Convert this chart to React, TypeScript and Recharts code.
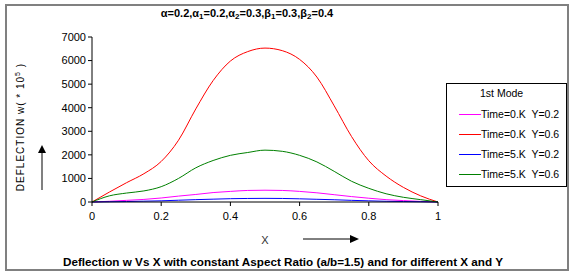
import { Line, LineChart, XAxis, YAxis } from "recharts";

// X positions along the plate
const xs = [0, 0.05, 0.1, 0.15, 0.2, 0.25, 0.3, 0.35, 0.4, 0.45, 0.5, 0.55, 0.6, 0.65, 0.7, 0.75, 0.8, 0.85, 0.9, 0.95, 1];

// deflection w (* 10^5)
const t0y02 = [0, 30, 70, 110, 170, 250, 320, 400, 450, 490, 500, 490, 450, 390, 310, 230, 160, 100, 60, 25, 0];
const t0y06 = [0, 420, 820, 1200, 1720, 2620, 3950, 5150, 5980, 6380, 6530, 6420, 6050, 5300, 4080, 2780, 1750, 1100, 620, 260, 0];
const t5y02 = [0, 10, 20, 35, 50, 75, 100, 120, 140, 150, 155, 150, 135, 115, 95, 70, 50, 30, 20, 10, 0];
const t5y06 = [0, 260, 380, 470, 650, 1000, 1450, 1760, 1980, 2100, 2200, 2150, 1980, 1700, 1300, 880, 580, 350, 200, 100, 0];

const xTicks = [0, 0.2, 0.4, 0.6, 0.8, 1];
const yTicks = [0, 1000, 2000, 3000, 4000, 5000, 6000, 7000];

const series = [
  { key: "t0y02", name: "Time=0.K  Y=0.2", color: "#ff00ff" },
  { key: "t0y06", name: "Time=0.K  Y=0.6", color: "#ff0000" },
  { key: "t5y02", name: "Time=5.K  Y=0.2", color: "#0000ff" },
  { key: "t5y06", name: "Time=5.K  Y=0.6", color: "#008000" },
];

const data = xs.map((x, i) => ({
  x,
  t0y02: t0y02[i],
  t0y06: t0y06[i],
  t5y02: t5y02[i],
  t5y06: t5y06[i],
}));

const font = "'Liberation Sans', Arial, sans-serif";
const tick = { fill: "#000", fontSize: 11, fontFamily: font };

function LegendBox() {
  return (
    <div
      style={{
        position: "absolute",
        left: 446,
        top: 83,
        width: 121,
        height: 104,
        border: "1px solid #000",
        background: "#fff",
        fontFamily: font,
        fontSize: 10.5,
        boxSizing: "border-box",
      }}
    >
      <div style={{ paddingLeft: 33, paddingTop: 3, height: 20, boxSizing: "border-box" }}>1st Mode</div>
      {series.map((s) => (
        <div key={s.key} style={{ display: "flex", alignItems: "center", height: 20 }}>
          <span style={{ width: 22, height: 1, background: s.color, marginLeft: 12 }} />
          <span style={{ whiteSpace: "pre" }}>{s.name}</span>
        </div>
      ))}
    </div>
  );
}

export default function App() {
  return (
    <div style={{ position: "absolute", left: 0, top: 0, width: 575, height: 274, background: "#fff" }}>
      <LineChart
        width={575}
        height={274}
        data={data}
        margin={{ top: 37, right: 137, left: 52, bottom: 42 }}
      >
        <XAxis
          dataKey="x"
          type="number"
          domain={[0, 1]}
          ticks={xTicks}
          tick={tick}
          tickSize={4}
          tickMargin={6}
          stroke="#000"
          height={30}
        />
        <XAxis xAxisId="top" orientation="top" dataKey="x" type="number" domain={[0, 1]} tick={false} tickLine={false} stroke="#000" height={0} />
        <YAxis
          domain={[0, 7000]}
          ticks={yTicks}
          tick={tick}
          tickSize={4}
          tickMargin={2}
          stroke="#000"
          width={40}
          interval={0}
        />
        <YAxis yAxisId="right" orientation="right" domain={[0, 7000]} tick={false} tickLine={false} stroke="#000" width={0} />
        {series.map((s) => (
          <Line
            key={s.key}
            type="monotone"
            dataKey={s.key}
            name={s.name}
            stroke={s.color}
            strokeWidth={1}
            dot={false}
            isAnimationActive={false}
          />
        ))}
      </LineChart>
      <LegendBox />
      <svg
        width={575}
        height={274}
        style={{ position: "absolute", left: 0, top: 0, pointerEvents: "none" }}
        fontFamily={font}
      >
        <rect x={6} y={5} width={562} height={265} fill="none" stroke="#808080" strokeWidth={2} />
        <text x={247} y={17} textAnchor="middle" fontSize={11} fontWeight="bold">
          α=0.2,α<tspan fontSize={8} dy={2}>1</tspan><tspan dy={-2}>=0.2,α</tspan>
          <tspan fontSize={8} dy={2}>2</tspan><tspan dy={-2}>=0.3,β</tspan>
          <tspan fontSize={8} dy={2}>1</tspan><tspan dy={-2}>=0.3,β</tspan>
          <tspan fontSize={8} dy={2}>2</tspan><tspan dy={-2}>=0.4</tspan>
        </text>
        <text
          transform="translate(24,127) rotate(-90)"
          textAnchor="middle"
          fontSize={10}
          letterSpacing={1}
        >
          DEFLECTION w( * 10<tspan fontSize={7} dy={-4}>5</tspan><tspan dy={4}> )</tspan>
        </text>
        <line x1={42} y1={190} x2={42} y2={152} stroke="#808080" strokeWidth={2} />
        <polygon points="42,145 38,153 46,153" fill="#000" />
        <text x={265} y={244} textAnchor="middle" fontSize={11} fill="#333">X</text>
        <line x1={303} y1={239} x2={352} y2={239} stroke="#000" strokeWidth={1} />
        <polygon points="359,239 350,235 350,243" fill="#000" />
        <text x={283} y={266} textAnchor="middle" fontSize={11.7} fontWeight="bold">
          Deflection w Vs X with constant Aspect Ratio (a/b=1.5) and for different X and Y
        </text>
      </svg>
    </div>
  );
}
